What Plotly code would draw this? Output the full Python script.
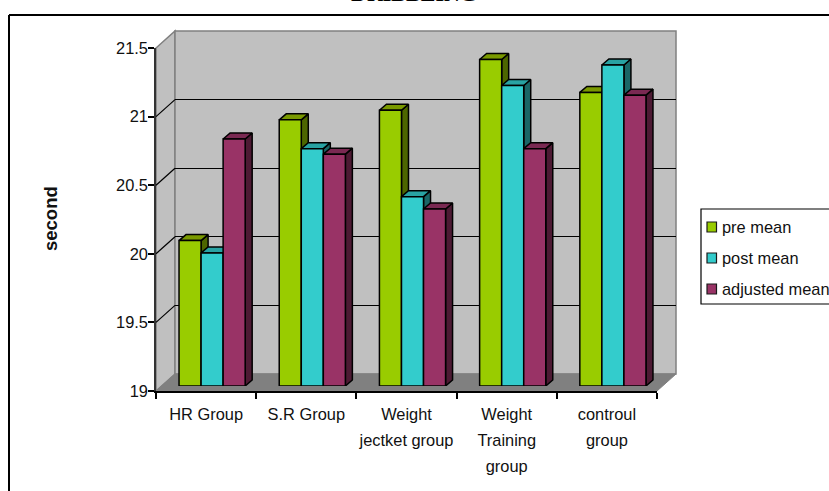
import plotly.graph_objects as go

# Chart data
groups = [["HR Group"], ["S.R Group"], ["Weight", "jectket group"],
          ["Weight", "Training", "group"], ["controul", "group"]]
series_names = ["pre mean", "post mean", "adjusted mean"]
pre_mean = [20.06, 20.94, 21.01, 21.38, 21.14]
post_mean = [19.97, 20.73, 20.38, 21.19, 21.34]
adjusted_mean = [20.80, 20.69, 20.29, 20.73, 21.12]
y_ticks = [19, 19.5, 20, 20.5, 21, 21.5]
y_labels = ["19", "19.5", "20", "20.5", "21", "21.5"]

front_colors = ["#99CC00", "#33CCCC", "#993366"]
side_colors = ["#4D6600", "#1A6666", "#4D1A33"]
top_colors = ["#7A9900", "#29A3A3", "#7A2952"]

W, H = 829, 491
FONT = "Liberation Sans"
WALL, FLOOR, EDGE = "#C0C0C0", "#808080", "#808080"

# Plane geometry in pixels: front edge of the floor, bars' plane, back wall
FX0, FX1, FY0, FY1 = 156, 657, 391, 48
BACK_DX, BACK_DY = 19, 17
BAR_SHIFT_X, BAR_SHIFT_Y = 6, 5
BAR_DEPTH_X, BAR_DEPTH_Y = 7, 6
BAR_GAP = 0.34
BAR_EDGE = 1.5

y_min, y_max = y_ticks[0], y_ticks[-1]
n = len(groups)
px_per_x = (FX1 - FX0) / n
px_per_y = (FY0 - FY1) / (y_max - y_min)


def px(x):
    return x / W


def py(y):
    return 1 - y / H


def plane_axes(dx, dy):
    xd = [px(FX0 + dx), px(FX1 + dx)]
    yd = [py(FY0 - dy), py(FY1 - dy)]
    return xd, yd


fig = go.Figure()

# Empty traces keep the front-plane and back-wall axes on the page
for xa, ya in (("x", "y"), ("x2", "y2")):
    fig.add_trace(go.Scatter(x=[None], y=[None], mode="lines", hoverinfo="skip",
                             showlegend=False, xaxis=xa, yaxis=ya))

# Side and top faces of the bars sit beneath the front faces
dx_data = BAR_DEPTH_X / px_per_x
dy_data = BAR_DEPTH_Y / px_per_y
bar_w = (1 - BAR_GAP) / 3
all_series = [pre_mean, post_mean, adjusted_mean]
for s, values in enumerate(all_series):
    side_x, side_y, top_x, top_y = [], [], [], []
    for i, v in enumerate(values):
        left = i + (s - 1.5) * bar_w
        right = left + bar_w
        side_x += [right, right + dx_data, right + dx_data, right, right, None]
        side_y += [y_min, y_min + dy_data, v + dy_data, v, y_min, None]
        top_x += [left, left + dx_data, right + dx_data, right, left, None]
        top_y += [v, v + dy_data, v + dy_data, v, v, None]
    for xs, ys, color in ((side_x, side_y, side_colors[s]), (top_x, top_y, top_colors[s])):
        fig.add_trace(go.Scatter(x=xs, y=ys, mode="lines", fill="toself", fillcolor=color,
                                 line=dict(color="#000000", width=BAR_EDGE), hoverinfo="skip",
                                 showlegend=False, xaxis="x3", yaxis="y3"))

# Front faces
x_pos = list(range(n))
for s, values in enumerate(all_series):
    fig.add_trace(go.Bar(x=x_pos, y=[v - y_min for v in values], base=y_min,
                         name=series_names[s], marker=dict(color=front_colors[s],
                         line=dict(color="#000000", width=BAR_EDGE)), showlegend=False,
                         xaxis="x4", yaxis="y4"))

shapes = []


def line(x0, y0, x1, y1, color, width):
    shapes.append(dict(type="line", xref="paper", yref="paper", x0=px(x0), y0=py(y0),
                       x1=px(x1), y1=py(y1), layer="below", line=dict(color=color, width=width)))


def poly(points, fill, edge, width=1.5):
    path = "M " + " L ".join(f"{px(a)},{py(b)}" for a, b in points) + " Z"
    shapes.append(dict(type="path", xref="paper", yref="paper", path=path, layer="below",
                       fillcolor=fill, line=dict(color=edge, width=width)))


# Outer frame running off the page
line(9, 15, 9, H + 5, "#000000", 2)
line(9, 15, W + 5, 15, "#000000", 2)

# Walls and floor
bx0, bx1 = FX0 + BACK_DX, FX1 + BACK_DX
by0, by1 = FY0 - BACK_DY, FY1 - BACK_DY
poly([(FX0, FY0), (bx0, by0), (bx0, by1), (FX0, FY1)], WALL, EDGE)
poly([(bx0, by1), (bx1, by1), (bx1, by0), (bx0, by0)], WALL, EDGE)
poly([(FX0, FY0), (bx0, by0), (bx1, by0), (FX1, FY0)], FLOOR, EDGE, 1)

# Grid lines carried across the left wall
for v in y_ticks[1:-1]:
    yy = FY0 - (v - y_min) * px_per_y
    line(FX0, yy, bx0, yy - BACK_DY, "#000000", 1.2)

# Legend box
LX0, LY0, LX1, LY1 = 701, 209, W + 5, 304
shapes.append(dict(type="rect", xref="paper", yref="paper", x0=px(LX0), x1=px(LX1),
                   y0=py(LY1), y1=py(LY0), fillcolor="#FFFFFF",
                   line=dict(color="#000000", width=1.2)))
annotations = []
for s, name in enumerate(series_names):
    yc = 227 + 31 * s
    shapes.append(dict(type="rect", xref="paper", yref="paper", x0=px(707), x1=px(716.5),
                       y0=py(yc + 5), y1=py(yc - 5), fillcolor=front_colors[s],
                       line=dict(color="#1A1A1A", width=1.2)))
    annotations.append(dict(text=name, xref="paper", yref="paper", x=px(720), y=py(yc),
                            xanchor="left", yanchor="middle", showarrow=False,
                            font=dict(family=FONT, size=16.4, color="#111111")))

# Rotated axis title
annotations.append(dict(text="<b>second</b>", xref="paper", yref="paper", x=px(50), y=py(219),
                        xanchor="center", yanchor="middle", showarrow=False, textangle=-90,
                        font=dict(family=FONT, size=18.5, color="#111111")))

hidden = dict(visible=False)
fx, fy = plane_axes(0, 0)
wx, wy = plane_axes(BACK_DX, BACK_DY)
bx, by = plane_axes(BAR_SHIFT_X, BAR_SHIFT_Y)
x_range = [-0.5, n - 0.5]
y_range = [y_min, y_max]

# Tick font sets the line pitch; the inner span sets the glyph size
tick_text = ["<br>".join(f"<span style='font-size:16.4px'>{p}</span>" for p in g) for g in groups]

fig.update_layout(
    template="none",
    width=W, height=H, autosize=False, margin=dict(l=0, r=0, t=0, b=0, pad=0),
    paper_bgcolor="#FFFFFF", plot_bgcolor="rgba(0,0,0,0)", barmode="group", bargap=BAR_GAP,
    bargroupgap=0, shapes=shapes, annotations=annotations, showlegend=False,
    # The title's baseline sits right at the top edge of the page
    title=dict(text="<b>DRIBBLING</b>", x=px(414), xanchor="center", xref="paper",
               y=py(0.5), yanchor="bottom", yref="container",
               font=dict(family="Liberation Serif", size=22, color="#000000")),
    xaxis=dict(domain=fx, range=x_range, anchor="y", tickmode="array", tickvals=x_pos,
               ticktext=tick_text, ticks="", showgrid=False, zeroline=False, showline=True,
               linecolor="#000000", linewidth=2, ticklabelstandoff=3, automargin=False,
               tickfont=dict(family=FONT, size=20, color="#111111"),
               minor=dict(tickmode="array", tickvals=[i - 0.5 for i in range(n + 1)],
                          ticks="outside", ticklen=6, tickwidth=1.5, tickcolor="#000000")),
    yaxis=dict(domain=fy, range=y_range, anchor="x", tickmode="array", tickvals=y_ticks,
               ticktext=y_labels, ticks="outside", ticklen=6, tickwidth=1.5, tickcolor="#000000",
               showgrid=False, zeroline=False, showline=True, linecolor="#333333", linewidth=1.5,
               ticklabelstandoff=-3, automargin=False,
               tickfont=dict(family=FONT, size=16.4, color="#111111")),
    xaxis2=dict(domain=wx, range=x_range, anchor="y2", showticklabels=False, ticks="",
                showgrid=False, zeroline=False, showline=False, automargin=False),
    yaxis2=dict(domain=wy, range=y_range, anchor="x2", tickmode="array", tickvals=y_ticks[1:-1],
                showticklabels=False, ticks="", showgrid=True, gridcolor="#000000", gridwidth=1.2,
                zeroline=False, showline=False, automargin=False),
    xaxis3=dict(domain=bx, range=x_range, anchor="y3", **hidden),
    yaxis3=dict(domain=by, range=y_range, anchor="x3", **hidden),
    xaxis4=dict(domain=bx, range=x_range, anchor="y4", **hidden),
    yaxis4=dict(domain=by, range=y_range, anchor="x4", **hidden),
)

fig.write_html("out.html")
